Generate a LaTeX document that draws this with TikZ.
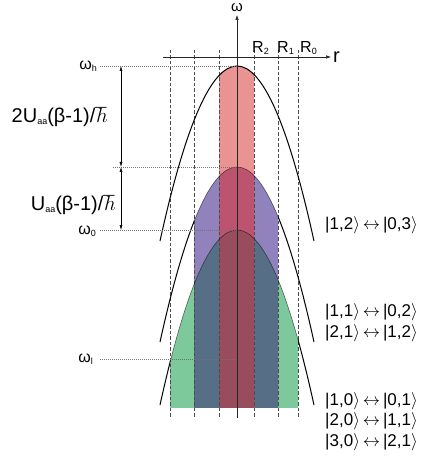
\documentclass[tikz,border=0pt]{standalone}
\usepackage{fontspec}
\setmainfont{Liberation Sans}
\usetikzlibrary{arrows.meta}
\definecolor{pinkband}{RGB}{233,147,147}
\definecolor{roseband}{RGB}{188,84,112}
\definecolor{violetband}{RGB}{145,130,189}
\definecolor{slateband}{RGB}{86,111,134}
\definecolor{maroonband}{RGB}{153,76,91}
\definecolor{greenband}{RGB}{126,201,155}
\newcommand{\lowidx}[1]{\raisebox{-2pt}{\fontsize{9}{9}\selectfont #1}}

\begin{document}
\begin{tikzpicture}[x=1pt, y=-1pt,
  hump/.style={insert path={(160,#1+175) .. controls (211.33,#1-58.33) and (262.67,#1-58.33) .. (314,#1+175)}},
  curve/.style={draw=black, line width=1pt},
  inner/.style={draw=black, draw opacity=0.55, line width=0.6pt},
  guide/.style={draw=black!70, line width=0.4pt, dash pattern=on 3.5pt off 2pt},
  level/.style={draw=black!55, line width=0.4pt, dash pattern=on 1pt off 1pt},
  ax/.style={draw=black!85, line width=0.5pt, -{Latex[length=5pt,width=3.5pt]}},
  gap/.style={draw=black, line width=0.5pt, {Latex[length=5pt,width=3pt]}-{Latex[length=5pt,width=3pt]}},
  lbl/.style={inner sep=0pt, font=\fontsize{16}{19}\selectfont},
  big/.style={inner sep=0pt, anchor=base east, font=\fontsize{20}{24}\selectfont},
  ket/.style={inner sep=0pt, anchor=base west, font=\fontsize{17}{20}\selectfont},
]
\useasboundingbox (0,0) rectangle (424,462);

\begin{scope}
  \clip (194,0) rectangle (278,407);
  \fill[violetband, hump=167] -- (314,430) -- (160,430) -- cycle;
\end{scope}
\begin{scope}
  \clip (170,0) rectangle (298,407);
  \fill[greenband, hump=230] -- (314,430) -- (160,430) -- cycle;
\end{scope}
\begin{scope}
  \clip (194,0) rectangle (278,407);
  \fill[slateband, hump=230] -- (314,430) -- (160,430) -- cycle;
\end{scope}
\begin{scope}
  \clip (219,0) rectangle (254,407);
  \fill[pinkband, hump=66] -- (314,430) -- (160,430) -- cycle;
  \fill[roseband, hump=167] -- (314,430) -- (160,430) -- cycle;
  \fill[maroonband, hump=230] -- (314,430) -- (160,430) -- cycle;
\end{scope}

\draw[guide] (170,50) -- (170,418);
\draw[guide] (194,50) -- (194,418);
\draw[guide] (219,50) -- (219,418);
\draw[guide] (254,50) -- (254,418);
\draw[guide] (278,50) -- (278,418);
\draw[guide] (298,50) -- (298,418);

\draw[curve, hump=66];
\begin{scope}
  \clip (0,0) rectangle (194,462) (278,0) rectangle (424,462);
  \draw[curve, hump=167];
\end{scope}
\begin{scope}
  \clip (0,0) rectangle (170,462) (298,0) rectangle (424,462);
  \draw[curve, hump=230];
\end{scope}
\begin{scope}
  \clip (194,0) rectangle (278,462);
  \draw[inner, hump=167];
\end{scope}
\begin{scope}
  \clip (170,0) rectangle (298,462);
  \draw[inner, hump=230];
\end{scope}

\coordinate (ybot) at (237,418);
\coordinate (ytop) at (237,15);
\coordinate (xlft) at (163,57);
\coordinate (xrgt) at (331,57);
\draw[ax] (ybot) -- (ytop);
\draw[ax] (xlft) -- (xrgt);
\node[lbl, anchor=base, font=\fontsize{15}{18}\selectfont] (omega) at (237,12) {ω};
\node[lbl, anchor=base west, font=\fontsize{20}{24}\selectfont] (r) at (333,63) {r};
\node[lbl, anchor=base west] (R2) at (252,53) {R\lowidx{2}};
\node[lbl, anchor=base west] (R1) at (277,53) {R\lowidx{1}};
\node[lbl, anchor=base west] (R0) at (300,53) {R\lowidx{0}};

\coordinate (hL) at (100,66);
\coordinate (hR) at (237,66);
\coordinate (mL) at (113,167);
\coordinate (mR) at (237,167);
\coordinate (zL) at (100,230);
\coordinate (zR) at (237,230);
\coordinate (lL) at (100,359);
\coordinate (lR) at (235,359);
\draw[level] (hL) -- (hR);
\draw[level] (mL) -- (mR);
\draw[level] (zL) -- (zR);
\draw[level] (lL) -- (lR);

\coordinate (g1) at (121,66);
\coordinate (g2) at (121,167);
\coordinate (g3) at (121,230);
\draw[gap] (g1) -- (g2);
\draw[gap] (g2) -- (g3);

\node[lbl, anchor=base east] (wh) at (97,70) {ω\lowidx{h}};
\node[lbl, anchor=base east] (w0) at (96,234) {ω\lowidx{0}};
\node[lbl, anchor=base east] (wl) at (93,362) {ω\lowidx{l}};
\node[big] (twoU) at (108,123) {2U\lowidx{aa}(β-1)/$\hbar$};
\node[big] (oneU) at (116,210) {U\lowidx{aa}(β-1)/$\hbar$};

\node[ket] (k12) at (325,229.5) {|1,2$\rangle\,{\leftrightarrow}\,$|0,3$\rangle$};
\node[ket] (k11) at (325,316.5) {|1,1$\rangle\,{\leftrightarrow}\,$|0,2$\rangle$};
\node[ket] (k21) at (325,337) {|2,1$\rangle\,{\leftrightarrow}\,$|1,2$\rangle$};
\node[ket] (k10) at (325,405) {|1,0$\rangle\,{\leftrightarrow}\,$|0,1$\rangle$};
\node[ket] (k20) at (325,425.5) {|2,0$\rangle\,{\leftrightarrow}\,$|1,1$\rangle$};
\node[ket] (k30) at (325,446) {|3,0$\rangle\,{\leftrightarrow}\,$|2,1$\rangle$};
\end{tikzpicture}
\end{document}
